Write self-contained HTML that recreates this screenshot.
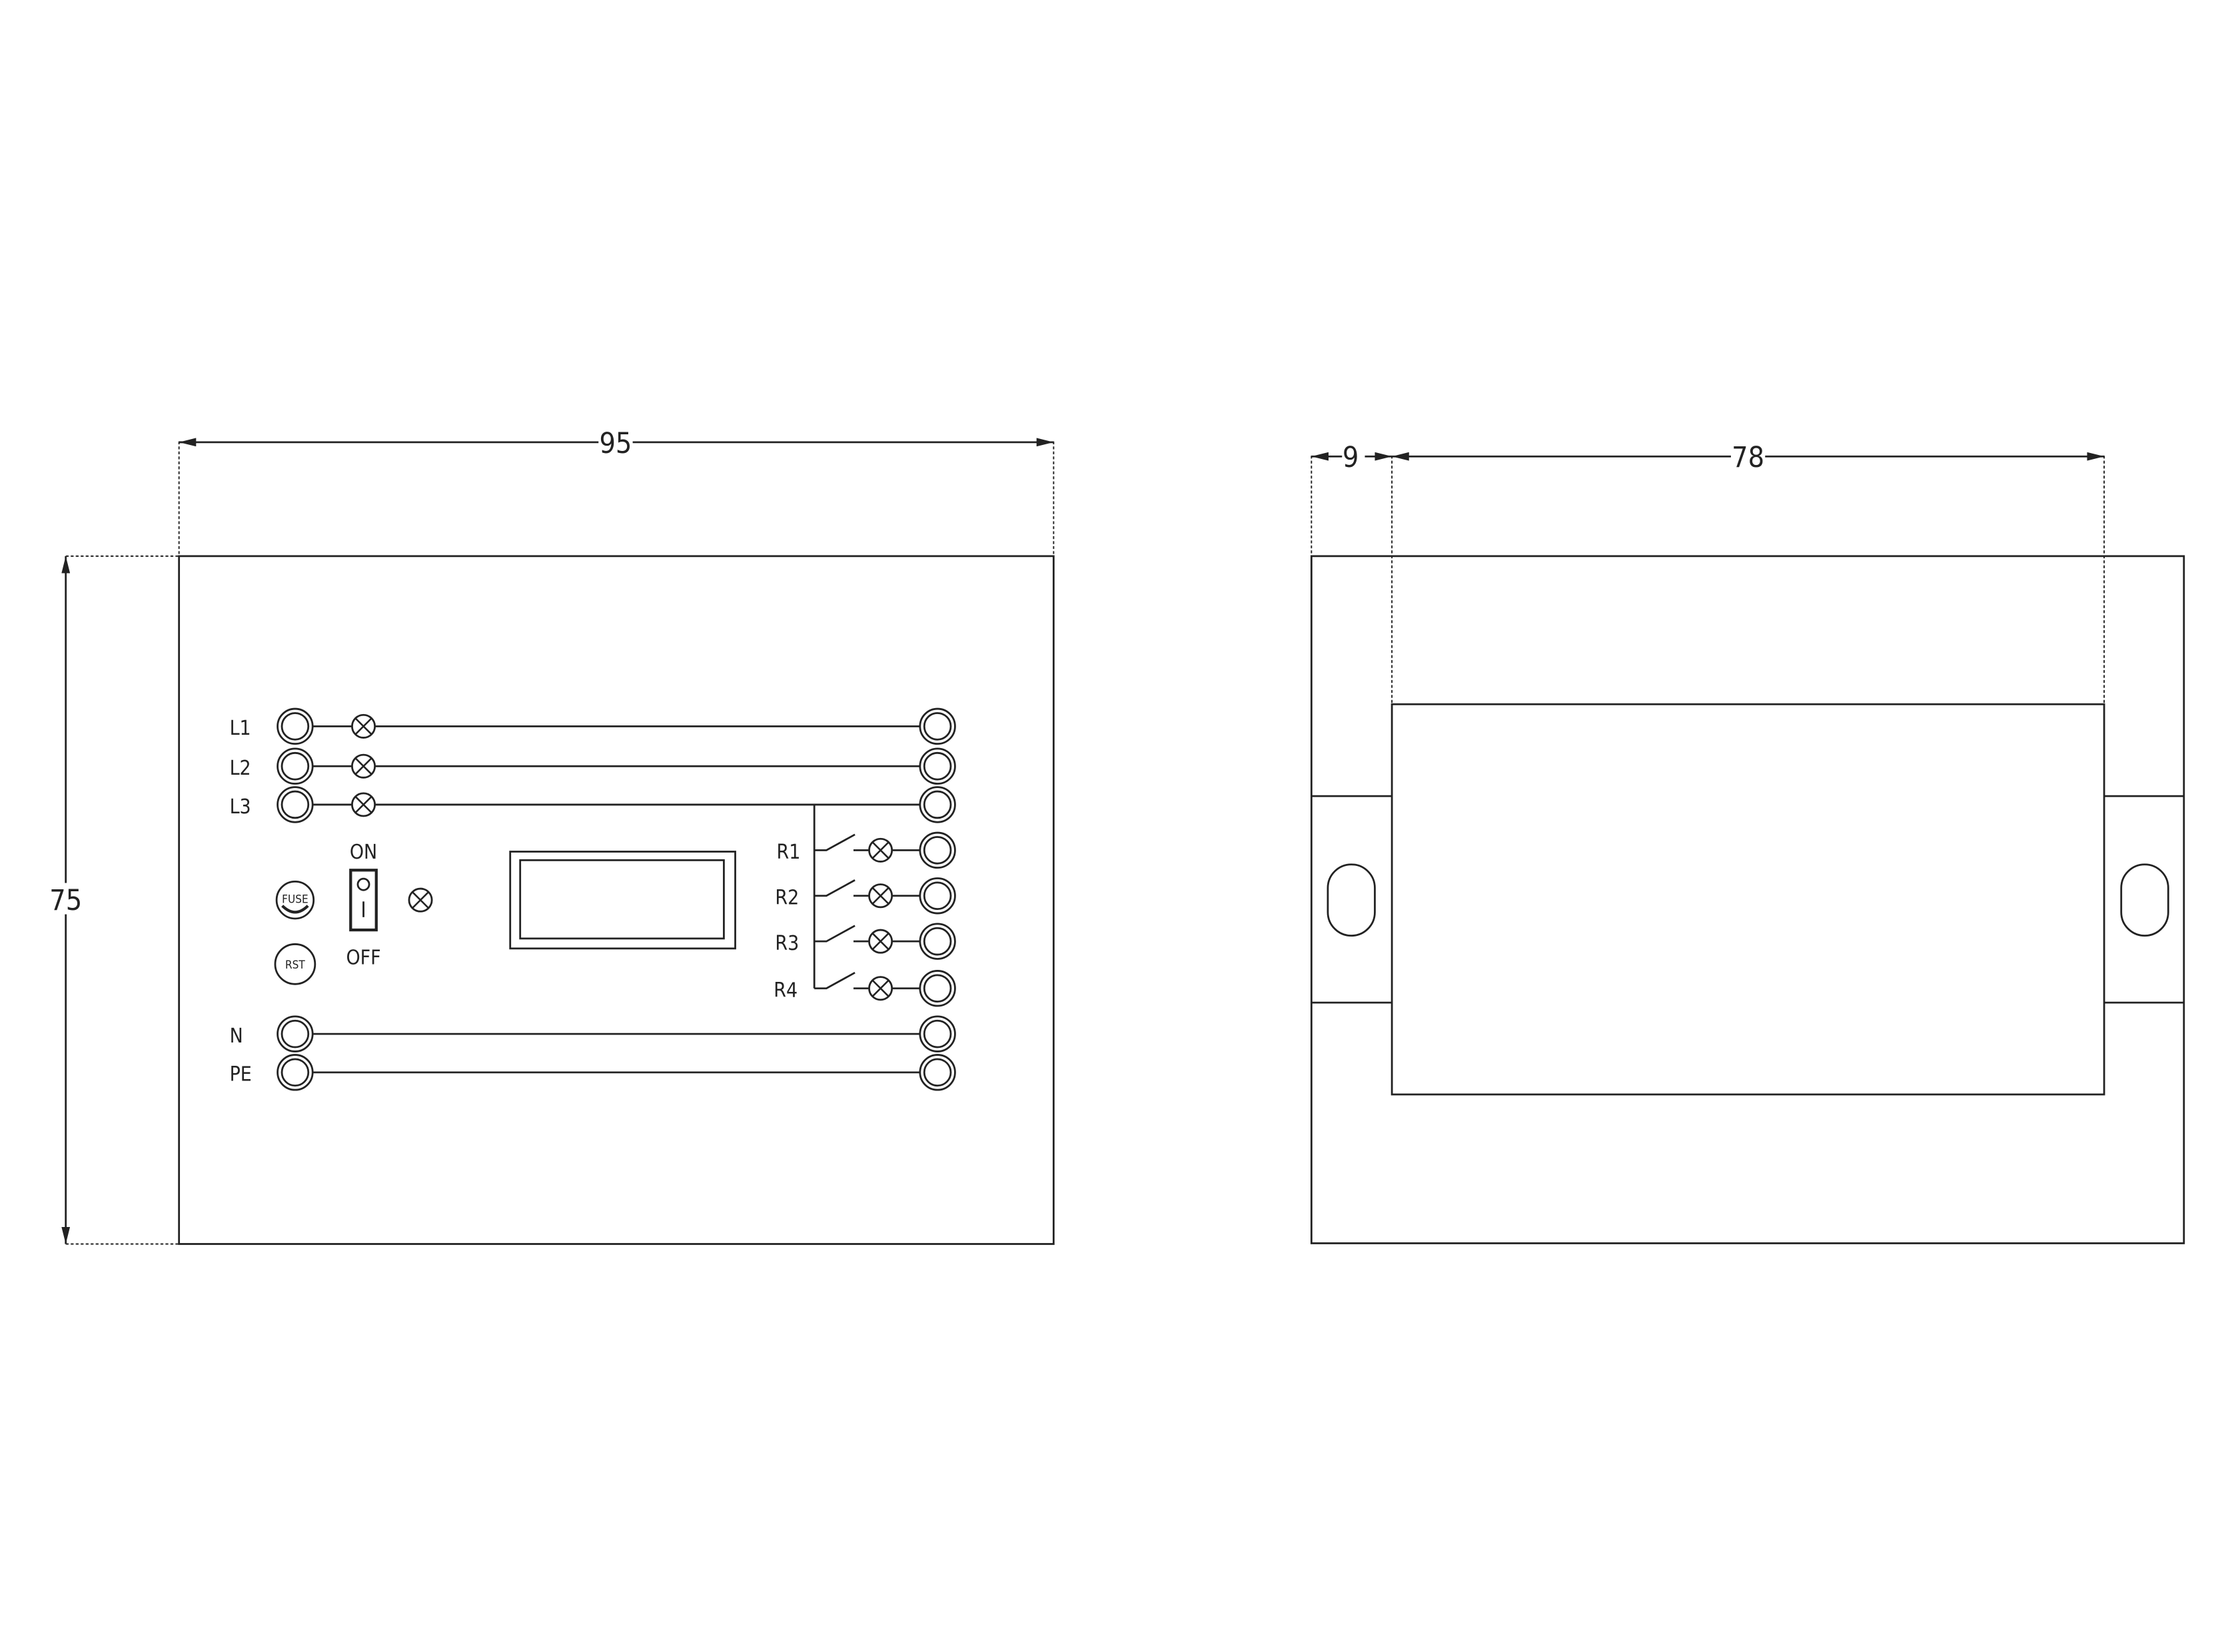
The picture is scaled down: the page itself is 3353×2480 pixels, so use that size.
<!DOCTYPE html>
<html><head><meta charset="utf-8">
<style>
html,body{margin:0;padding:0;background:#fff;}
svg{display:block;}
text{font-family:"DejaVu Sans Condensed","Liberation Sans Narrow","Liberation Sans",sans-serif;fill:#222;}
</style></head>
<body>
<svg width="3353" height="2480" viewBox="0 0 1568 1160" xmlns="http://www.w3.org/2000/svg">
<defs>
<g id="term"><circle r="12.3" fill="#fff" stroke="#222" stroke-width="1.3"/><circle r="9.3" fill="none" stroke="#222" stroke-width="1.3"/></g>
<g id="lamp"><circle r="8" fill="#fff" stroke="#222" stroke-width="1.3"/><line x1="-5.6" y1="-5.6" x2="5.6" y2="5.6" stroke="#222" stroke-width="1.2"/><line x1="-5.6" y1="5.6" x2="5.6" y2="-5.6" stroke="#222" stroke-width="1.2"/></g>
<marker id="ar" markerWidth="12" markerHeight="6" refX="12" refY="3" orient="auto" markerUnits="userSpaceOnUse"><path d="M0,0 L12,3 L0,6 z" fill="#222"/></marker>
</defs>
<g stroke="#222" stroke-width="1.3" fill="none">
<!-- Left view -->
<rect x="125.5" y="390.5" width="614" height="483"/>
<line x1="125.5" y1="310" x2="125.5" y2="390" stroke-dasharray="2,1.5" stroke-width="0.9"/>
<line x1="739.5" y1="310" x2="739.5" y2="390" stroke-dasharray="2,1.5" stroke-width="0.9"/>
<line x1="46" y1="390.5" x2="125" y2="390.5" stroke-dasharray="2,1.5" stroke-width="0.9"/>
<line x1="46" y1="873.5" x2="125" y2="873.5" stroke-dasharray="2,1.5" stroke-width="0.9"/>
<line x1="130" y1="310.5" x2="125.5" y2="310.5"/>
<line x1="432" y1="310.5" x2="125.5" y2="310.5" marker-end="url(#ar)"/>
<line x1="432" y1="310.5" x2="739.5" y2="310.5" marker-end="url(#ar)"/>
<line x1="46" y1="632" x2="46" y2="390.5" marker-end="url(#ar)"/>
<line x1="46" y1="632" x2="46" y2="873.5" marker-end="url(#ar)"/>
<!-- bus lines -->
<line x1="207" y1="510" x2="658" y2="510"/>
<line x1="207" y1="538" x2="658" y2="538"/>
<line x1="207" y1="565" x2="658" y2="565"/>
<line x1="207" y1="726" x2="658" y2="726"/>
<line x1="207" y1="753" x2="658" y2="753"/>
<line x1="571.5" y1="565" x2="571.5" y2="694"/>
<g id="sw"></g>
<path d="M571.5,597 H580 L600,586 M599,597 H646"/>
<path d="M571.5,629 H580 L600,618 M599,629 H646"/>
<path d="M571.5,661 H580 L600,650 M599,661 H646"/>
<path d="M571.5,694 H580 L600,683 M599,694 H646"/>
<!-- display -->
<rect x="358" y="598" width="158" height="68"/>
<rect x="365" y="604" width="143" height="55"/>
<!-- switch -->
<rect x="246" y="611" width="18" height="42" stroke-width="2"/>
<circle cx="255" cy="621" r="4"/>
<line x1="255" y1="633" x2="255" y2="644"/>
<!-- fuse / rst -->
<circle cx="207" cy="632" r="13"/>
<path d="M198,636 Q207,645 216,636" stroke-width="2"/>
<circle cx="207" cy="677" r="14"/>
<!-- Right view -->
<rect x="920.5" y="390.5" width="612.5" height="482.5"/>
<rect x="977" y="494.5" width="500" height="274"/>
<line x1="920.5" y1="559" x2="977" y2="559"/>
<line x1="920.5" y1="704" x2="977" y2="704"/>
<line x1="1477" y1="559" x2="1533" y2="559"/>
<line x1="1477" y1="704" x2="1533" y2="704"/>
<rect x="932" y="607" width="33" height="50" rx="16.5" ry="16.5"/>
<rect x="1489" y="607" width="33" height="50" rx="16.5" ry="16.5"/>
<line x1="920.5" y1="320" x2="920.5" y2="390" stroke-dasharray="2,1.5" stroke-width="0.9"/>
<line x1="977" y1="320" x2="977" y2="494" stroke-dasharray="2,1.5" stroke-width="0.9"/>
<line x1="1477" y1="320" x2="1477" y2="494" stroke-dasharray="2,1.5" stroke-width="0.9"/>
<line x1="948" y1="320.5" x2="920.5" y2="320.5" marker-end="url(#ar)"/>
<line x1="958" y1="320.5" x2="977" y2="320.5" marker-end="url(#ar)"/>
<line x1="1227" y1="320.5" x2="977" y2="320.5" marker-end="url(#ar)"/>
<line x1="1227" y1="320.5" x2="1477" y2="320.5" marker-end="url(#ar)"/>
</g>
<!-- terminals -->
<use href="#term" x="207" y="510"/><use href="#term" x="207" y="538"/><use href="#term" x="207" y="565"/>
<use href="#term" x="207" y="726"/><use href="#term" x="207" y="753"/>
<use href="#term" x="658" y="510"/><use href="#term" x="658" y="538"/><use href="#term" x="658" y="565"/>
<use href="#term" x="658" y="597"/><use href="#term" x="658" y="629"/><use href="#term" x="658" y="661"/><use href="#term" x="658" y="694"/>
<use href="#term" x="658" y="726"/><use href="#term" x="658" y="753"/>
<use href="#lamp" x="255" y="510"/><use href="#lamp" x="255" y="538"/><use href="#lamp" x="255" y="565"/>
<use href="#lamp" x="295" y="632"/>
<use href="#lamp" x="618" y="597"/><use href="#lamp" x="618" y="629"/><use href="#lamp" x="618" y="661"/><use href="#lamp" x="618" y="694"/>
<!-- labels -->
<g font-size="14">
<text x="161" y="516">L1</text>
<text x="161" y="544">L2</text>
<text x="161" y="571">L3</text>
<text x="161" y="732">N</text>
<text x="161" y="759">PE</text>
<text x="545" y="603">R1</text>
<text x="544" y="635">R2</text>
<text x="544" y="667">R3</text>
<text x="543" y="700">R4</text>
<text x="255" y="603" text-anchor="middle">ON</text>
<text x="255" y="677" text-anchor="middle">OFF</text>
</g>
<text x="207" y="634" font-size="8" text-anchor="middle">FUSE</text>
<text x="207" y="680" font-size="8" text-anchor="middle">RST</text>
<g font-size="20">
<rect x="420" y="300" width="24" height="20" fill="#fff"/>
<text x="432" y="318" text-anchor="middle">95</text>
<rect x="34" y="620" width="24" height="22" fill="#fff"/>
<text x="46" y="639" text-anchor="middle">75</text>
<rect x="942" y="310" width="13" height="20" fill="#fff"/>
<text x="948" y="328" text-anchor="middle">9</text>
<rect x="1215" y="310" width="24" height="20" fill="#fff"/>
<text x="1227" y="328" text-anchor="middle">78</text>
</g>
</svg>
</body></html>
